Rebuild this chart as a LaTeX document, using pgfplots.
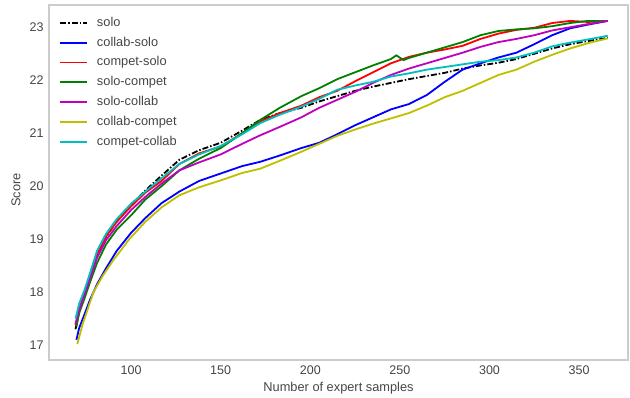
\documentclass[border=0pt]{standalone}
\usepackage{pgfplots}
\pgfplotsset{compat=1.18}
\usepackage{pgfplotstable}
\usepackage{fontspec}
\setmainfont{Liberation Sans}
\definecolor{mb}{rgb}{0,0,1}
\definecolor{mr}{rgb}{1,0,0}
\definecolor{mg}{rgb}{0,0.5,0}
\definecolor{mm}{rgb}{0.75,0,0.75}
\definecolor{my}{rgb}{0.75,0.75,0}
\definecolor{mc}{rgb}{0,0.75,0.75}
\definecolor{tickgray}{rgb}{0.27,0.27,0.27}
\definecolor{framegray}{rgb}{0.8,0.8,0.8}

\pgfplotstableread{
x y
69 17.30
71 17.62
74 17.95
77 18.28
81 18.70
86 19.05
92 19.33
100 19.65
108 19.92
117 20.20
127 20.50
138 20.68
150 20.82
162 21.05
172 21.25
183 21.38
195 21.48
205 21.60
215 21.70
225 21.80
235 21.88
245 21.95
255 22.02
265 22.08
275 22.14
285 22.22
295 22.28
305 22.33
315 22.40
325 22.50
335 22.60
345 22.68
355 22.74
366 22.80
}\solo

\pgfplotstableread{
x y
69.5 17.10
71 17.32
74 17.58
77 17.85
81 18.15
86 18.45
92 18.78
100 19.12
108 19.40
117 19.68
127 19.90
138 20.10
150 20.24
162 20.38
172 20.46
183 20.58
195 20.72
205 20.82
215 20.98
225 21.15
235 21.30
245 21.45
255 21.55
265 21.72
275 21.97
285 22.20
295 22.32
305 22.43
315 22.52
325 22.68
335 22.85
345 22.98
355 23.05
366 23.12
}\collabsolo

\pgfplotstableread{
x y
69 17.38
71 17.68
74 17.98
77 18.30
81 18.72
86 19.05
92 19.33
100 19.62
108 19.88
117 20.10
127 20.42
138 20.62
150 20.75
162 21.00
172 21.22
183 21.38
195 21.52
205 21.68
215 21.80
225 21.98
235 22.15
245 22.32
255 22.44
265 22.52
275 22.58
285 22.65
295 22.78
305 22.88
315 22.95
325 22.99
335 23.08
345 23.12
355 23.10
366 23.12
}\competsolo

\pgfplotstableread{
x y
69.5 17.35
71 17.60
74 17.88
77 18.18
81 18.55
86 18.90
92 19.18
100 19.45
108 19.75
117 20.00
127 20.30
138 20.52
150 20.72
162 21.00
172 21.25
183 21.48
195 21.70
205 21.85
215 22.02
225 22.15
235 22.28
245 22.40
248 22.47
252 22.38
255 22.42
265 22.52
275 22.62
285 22.72
295 22.85
305 22.93
315 22.96
325 22.98
335 23.02
345 23.08
355 23.12
366 23.12
}\solocompet

\pgfplotstableread{
x y
69 17.40
71 17.66
74 17.95
77 18.25
81 18.65
86 18.98
92 19.25
100 19.55
108 19.80
117 20.05
127 20.30
138 20.45
150 20.60
162 20.80
172 20.96
183 21.12
195 21.30
205 21.48
215 21.63
225 21.78
235 21.95
245 22.10
255 22.22
265 22.32
275 22.42
285 22.52
295 22.63
305 22.72
315 22.78
325 22.85
335 22.94
345 23.00
355 23.06
366 23.12
}\solocollab

\pgfplotstableread{
x y
70 17.02
73 17.40
76 17.70
79 18.00
84 18.30
90 18.60
99 19.00
108 19.33
117 19.60
127 19.83
138 19.98
150 20.11
162 20.25
172 20.33
183 20.48
195 20.65
205 20.80
215 20.95
225 21.07
235 21.18
245 21.28
255 21.38
265 21.52
275 21.68
285 21.80
295 21.95
305 22.10
315 22.20
325 22.35
335 22.48
345 22.60
355 22.70
366 22.79
}\collabcompet

\pgfplotstableread{
x y
69 17.50
71 17.78
74 18.04
77 18.35
81 18.78
86 19.10
92 19.38
100 19.67
108 19.90
117 20.15
127 20.42
138 20.60
150 20.76
162 20.98
172 21.19
183 21.35
195 21.50
205 21.65
215 21.82
225 21.90
235 21.97
245 22.07
255 22.13
265 22.20
275 22.25
285 22.30
295 22.35
305 22.38
315 22.43
325 22.52
335 22.64
345 22.71
355 22.77
366 22.84
}\competcollab

\begin{document}
\begin{tikzpicture}
\path (-49bp,-37bp) rectangle (581bp,360bp);
\begin{axis}[
  at={(0,0)}, anchor=south west,
  scale only axis, width=579bp, height=355bp,
  xmin=54.2, xmax=377.3, ymin=16.72, ymax=23.42,
  xtick={100,150,...,350}, ytick={17,18,...,23},
  major tick length=0pt,
  axis line style={framegray, line width=1.1bp},
  /pgf/number format/assume math mode=true,
  ticklabel style={font=\fontsize{12.5bp}{15bp}\selectfont, text=tickgray},
  xticklabel style={yshift=-2bp},
  yticklabel style={xshift=-2bp},
  label style={font=\fontsize{12.8bp}{15bp}\selectfont, text=tickgray},
  xlabel={Number of expert samples},
  ylabel={Score},
  xlabel style={at={(axis description cs:0.5,0)}, anchor=center, yshift=-28bp},
  ylabel style={at={(axis description cs:-0.057,0.479)}, anchor=center},
  legend cell align=left,
  legend image code/.code={\draw[#1, line width=1.8bp] (0bp,0bp) -- (27bp,0bp);},
  legend style={at={(axis description cs:0,1)}, anchor=north west,
    xshift=10bp, yshift=-10.5bp, draw=none, fill=none,
    font=\fontsize{12.8bp}{15bp}\selectfont, text=tickgray,
    row sep=5.3bp, column sep=8bp, inner sep=0bp,
    nodes={inner sep=1bp, text height=9.5bp, text depth=3bp}},
]
\addplot[black, line width=1.8bp, dash pattern=on 6bp off 2bp on 1.5bp off 2bp] table[x=x,y=y] {\solo};
\addlegendentry{solo}
\addplot[mb, line width=1.8bp] table[x=x,y=y] {\collabsolo};
\addlegendentry{collab-solo}
\addplot[mr, line width=1.8bp] table[x=x,y=y] {\competsolo};
\addlegendentry{compet-solo}
\addplot[mg, line width=1.8bp] table[x=x,y=y] {\solocompet};
\addlegendentry{solo-compet}
\addplot[mm, line width=1.8bp] table[x=x,y=y] {\solocollab};
\addlegendentry{solo-collab}
\addplot[my, line width=1.8bp] table[x=x,y=y] {\collabcompet};
\addlegendentry{collab-compet}
\addplot[mc, line width=1.8bp] table[x=x,y=y] {\competcollab};
\addlegendentry{compet-collab}
\end{axis}
\end{tikzpicture}
\end{document}
